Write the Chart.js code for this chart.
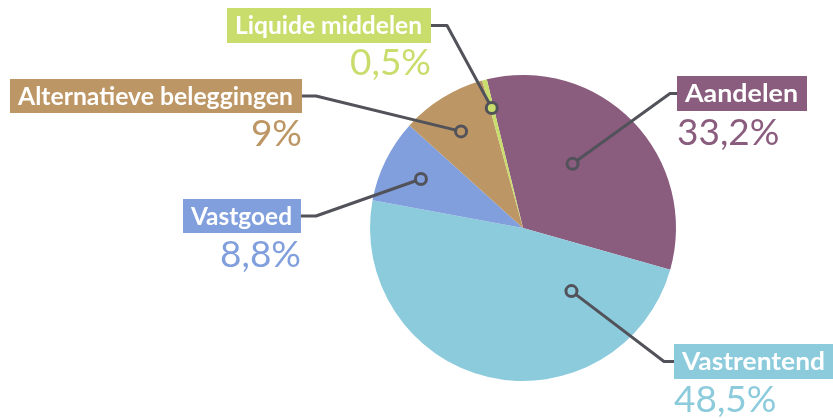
<!DOCTYPE html>
<html lang="nl">
<head>
  <meta charset="UTF-8"/>
  <title>Beleggingsmix</title>
  <script src="https://cdn.jsdelivr.net/npm/chart.js"></script>
  <style>
    * { box-sizing: border-box; margin: 0; padding: 0; }
    body { background: #fff; }
    #chart-container { position: relative; width: 833px; height: 418px; }
  </style>
</head>
<body>
  <div id="chart-container">
    <canvas id="mixChart"></canvas>
  </div>

  <script>
    // data
    const categories = ['Aandelen', 'Vastrentend', 'Vastgoed', 'Alternatieve beleggingen', 'Liquide middelen'];
    const shares = [33.2, 48.5, 8.8, 9, 0.5];

    // styles
    const sliceColors = ['#8a5c7e', '#8ccbdc', '#809fdc', '#bd9665', '#c9dd6c'];
    const lineColor = '#52525b';

    // label layout per slice: box, elbow x, anchor inside slice (angle fraction, radius fraction)
    const labelLayout = [
      { box: [677, 76, 130, 35], side: 'right', elbow: 670, frac: 0.43, dist: 0.53, pctY: 145 },
      { box: [674, 344, 160, 35], side: 'right', elbow: 664, frac: 0.21, dist: 0.52, pctY: 412 },
      { box: [183, 199, 118, 34], side: 'left', elbow: 316, frac: 0.48, dist: 0.74, pctY: 267 },
      { box: [10, 79, 292, 34], side: 'left', elbow: 316, frac: 0.47, dist: 0.75, pctY: 146 },
      { box: [227, 8, 204, 35], side: 'left', elbow: 447, frac: 0.5, dist: 0.81, pctY: 75 }
    ];

    function fmtPct(v) {
      return String(v).replace('.', ',') + '%';
    }

    const calloutPlugin = {
      id: 'callouts',
      afterDatasetsDraw(chart) {
        const ctx = chart.ctx;
        const arcs = chart.getDatasetMeta(0).data;
        arcs.forEach((arc, i) => {
          const lay = labelLayout[i];
          const p = arc.getProps(['x', 'y', 'startAngle', 'endAngle', 'outerRadius'], true);
          const a = p.startAngle + lay.frac * (p.endAngle - p.startAngle);
          const ax = p.x + Math.cos(a) * p.outerRadius * lay.dist;
          const ay = p.y + Math.sin(a) * p.outerRadius * lay.dist;
          const [bx, by, bw, bh] = lay.box;
          const midY = by + bh / 2;
          const sx = lay.side === 'left' ? bx + bw : bx;

          ctx.save();
          // leader line
          ctx.strokeStyle = lineColor;
          ctx.lineWidth = 3;
          ctx.lineJoin = 'round';
          ctx.beginPath();
          ctx.moveTo(sx, midY);
          ctx.lineTo(lay.elbow, midY);
          ctx.lineTo(ax, ay);
          ctx.stroke();
          // ring
          ctx.beginPath();
          ctx.arc(ax, ay, 5.5, 0, Math.PI * 2);
          ctx.fillStyle = sliceColors[i];
          ctx.fill();
          ctx.stroke();

          // label box
          ctx.fillStyle = sliceColors[i];
          ctx.fillRect(bx, by, bw, bh);
          ctx.font = 'bold 24px Lato';
          ctx.fillStyle = '#fff';
          ctx.textBaseline = 'alphabetic';
          ctx.textAlign = 'left';
          const target = bw - 17;
          const tw = ctx.measureText(categories[i]).width;
          const k = Math.max(0.8, Math.min(1.2, target / tw));
          ctx.save();
          ctx.translate(bx + 8, by + 26);
          ctx.scale(k, 1);
          ctx.fillText(categories[i], 0, 0);
          ctx.restore();

          // percentage
          ctx.font = '37px Lato';
          ctx.fillStyle = sliceColors[i];
          ctx.textAlign = lay.side === 'left' ? 'right' : 'left';
          ctx.fillText(fmtPct(shares[i]), lay.side === 'left' ? bx + bw : bx, lay.pctY);
          ctx.restore();
        });
      }
    };

    const ctx = document.getElementById('mixChart').getContext('2d');
    new Chart(ctx, {
      type: 'pie',
      data: {
        labels: categories,
        datasets: [{
          data: shares,
          backgroundColor: sliceColors,
          borderWidth: 0
        }]
      },
      options: {
        responsive: true,
        maintainAspectRatio: false,
        animation: false,
        rotation: -13.7,
        layout: { padding: { left: 370, right: 157, top: 75, bottom: 37 } },
        plugins: {
          legend: { display: false },
          tooltip: { enabled: false }
        }
      },
      plugins: [calloutPlugin]
    });
  </script>
</body>
</html>
